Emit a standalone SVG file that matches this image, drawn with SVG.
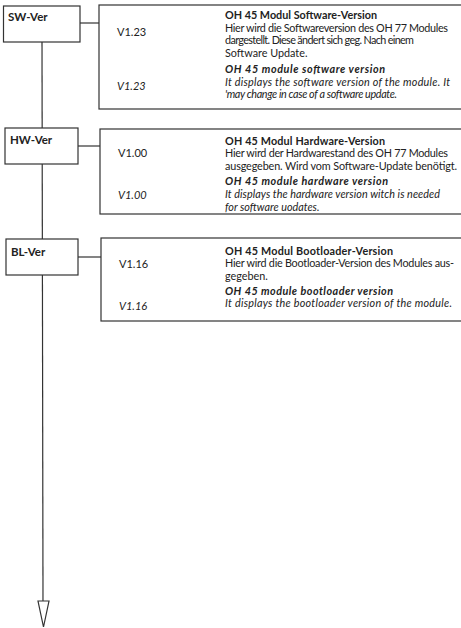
<svg xmlns="http://www.w3.org/2000/svg" width="461" height="628" viewBox="0 0 461 628">
<style>
.box{fill:#fff;stroke:#333;stroke-width:1.2}
.ln{fill:none;stroke:#333;stroke-width:1.2}
text{font-family:Lato,"Open Sans","Liberation Sans",sans-serif;font-size:10.8px;fill:#222}
.lbl{font-weight:bold;font-size:11.5px}
.v{font-size:11px}
.h{font-weight:bold}
.hi{font-weight:bold;font-style:italic}
.i{font-style:italic}
</style>
<rect width="461" height="628" fill="#fff"/>
<g id="connectors">
<line class="ln" x1="42" y1="42" x2="43" y2="601"/>
<polygon points="38,601 49,601 43.5,627" fill="#fff" stroke="#333" stroke-width="1.2"/>
<line class="ln" x1="80" y1="23" x2="99" y2="23"/>
<line class="ln" x1="78" y1="146" x2="100" y2="146"/>
<line class="ln" x1="78" y1="257" x2="101" y2="257"/>
</g>
<g id="sw-ver">
<rect class="box" x="3.5" y="6" width="76.5" height="36"/>
<text class="lbl" x="8" y="21">SW-Ver</text>
</g>
<g id="sw-detail">
<rect class="box" x="99" y="5" width="363" height="104"/>
<text class="v" x="117" y="36">V1.23</text>
<text class="v i" x="117" y="90">V1.23</text>
<text class="h" x="225" y="19" textLength="152">OH 45 Modul Software-Version</text>
<text x="225" y="32" textLength="223">Hier wird die Softwareversion des OH 77 Modules</text>
<text x="225" y="44" textLength="189">dargestellt. Diese ändert sich geg. Nach einem</text>
<text x="225" y="57">Software Update.</text>
<text class="hi" x="225" y="73" textLength="160">OH 45 module software version</text>
<text class="i" x="225" y="86" textLength="225">It displays the software version of the module. It</text>
<text class="i" x="225" y="98" textLength="172">'may change in case of a software update.</text>
</g>
<g id="hw-ver">
<rect class="box" x="5" y="128" width="73" height="36"/>
<text class="lbl" x="10" y="144">HW-Ver</text>
</g>
<g id="hw-detail">
<rect class="box" x="100" y="129" width="362" height="85"/>
<text class="v" x="118" y="157">V1.00</text>
<text class="v i" x="118" y="199">V1.00</text>
<text class="h" x="225" y="145" textLength="160">OH 45 Modul Hardware-Version</text>
<text x="225" y="157" textLength="223">Hier wird der Hardwarestand des OH 77 Modules</text>
<text x="225" y="170" textLength="232">ausgegeben. Wird vom Software-Update benötigt.</text>
<text class="hi" x="225" y="185" textLength="163">OH 45 module hardware version</text>
<text class="i" x="225" y="198" textLength="215">It displays the hardware version witch is needed</text>
<text class="i" x="225" y="211">for software uodates.</text>
</g>
<g id="bl-ver">
<rect class="box" x="6" y="239" width="72" height="36"/>
<text class="lbl" x="11" y="256">BL-Ver</text>
</g>
<g id="bl-detail">
<rect class="box" x="101" y="238" width="361" height="83"/>
<text class="v" x="119" y="268">V1.16</text>
<text class="v i" x="119" y="310">V1.16</text>
<text class="h" x="225" y="255" textLength="168">OH 45 Modul Bootloader-Version</text>
<text x="225" y="267" textLength="229">Hier wird die Bootloader-Version des Modules aus-</text>
<text x="225" y="280">gegeben.</text>
<text class="hi" x="225" y="295" textLength="168">OH 45 module bootloader version</text>
<text class="i" x="225" y="307" textLength="227">It displays the bootloader version of the module.</text>
</g>
</svg>
